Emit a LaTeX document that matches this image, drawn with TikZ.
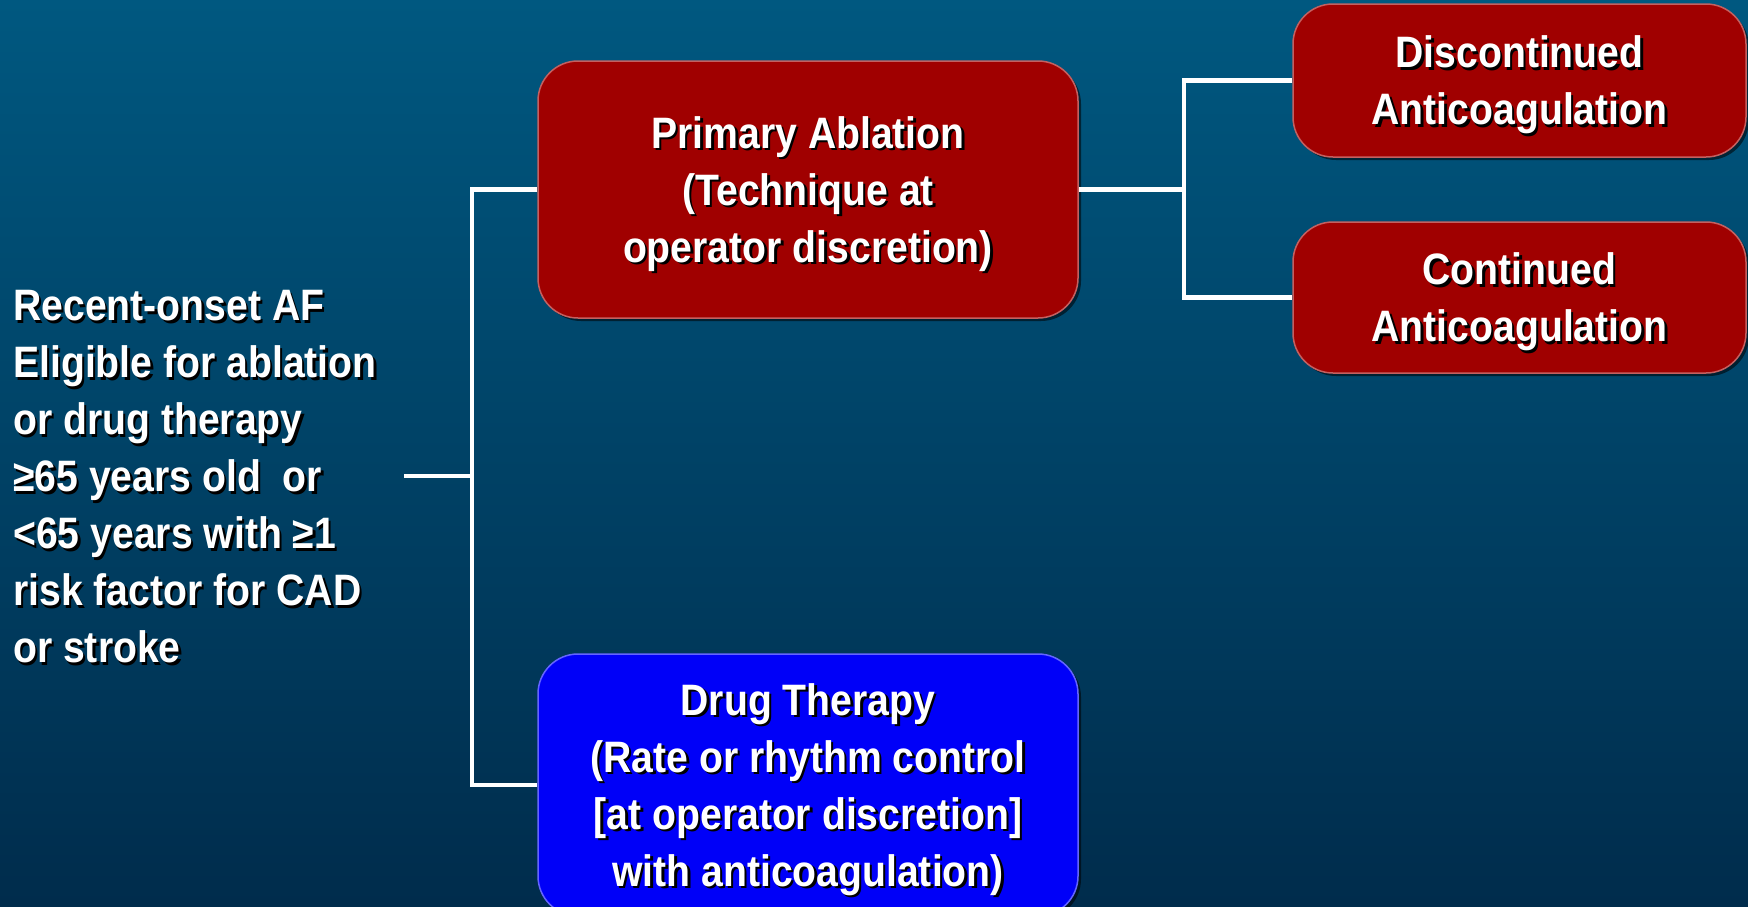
\documentclass[tikz,border=0pt]{standalone}
\usepackage{fontspec}
\setmainfont{Liberation Sans}[FakeStretch=0.89]
\usetikzlibrary{shadows}

\definecolor{bgoben}{RGB}{0,88,128}
\definecolor{bgunten}{RGB}{0,44,76}
\definecolor{ablrot}{RGB}{160,0,0}
\definecolor{ablrand}{RGB}{196,96,96}
\definecolor{drugblau}{RGB}{0,0,248}
\definecolor{drugrand}{RGB}{100,100,255}

% Text mit Schatten
\newcommand{\shd}[1]{\rlap{\color{black}\kern2.5pt\raisebox{-2.5pt}{#1}}#1}

\begin{document}
\begin{tikzpicture}[x=1pt, y=-1pt,
    txt/.style={text=white, font=\bfseries\fontsize{44}{57}\selectfont, inner sep=0pt},
    box/.style={txt, rounded corners=40pt, align=center, line width=1.5pt, text depth=-6pt,
        drop shadow={shadow xshift=3pt, shadow yshift=-3pt, fill=black, opacity=0.55}},
    rotbox/.style={box, fill=ablrot, draw=ablrand},
    blaubox/.style={box, fill=drugblau, draw=drugrand},
    linie/.style={white, line width=4.5pt}]

            % Hintergrund
            \shade[top color=bgoben, bottom color=bgunten] (0,0) rectangle (1748,906);
            \useasboundingbox (0,0) rectangle (1748,906);

            % Patientengruppe links
            \node[txt, anchor=west, align=left] (pat) at (13,478)
            {\shd{Recent-onset AF}\\ \shd{Eligible for ablation}\\ \shd{or drug therapy}\\
             \shd{≥65 years old\ \ or}\\ \shd{<65 years with ≥1}\\ \shd{risk factor for CAD}\\
             \shd{or stroke}};

            % Primaere Ablation
            \node[rotbox, minimum width=540pt, minimum height=257pt] (abl) at (808,189.5)
            {\shd{Primary Ablation}\\ \shd{(Technique at}\\ \shd{operator discretion)}};

            % Medikamentoese Therapie
            \node[blaubox, minimum width=540pt, minimum height=262pt] (drug) at (808,785)
            {\shd{Drug Therapy}\\ \shd{(Rate or rhythm control}\\ \shd{[at operator discretion]}\\
             \shd{with anticoagulation)}};

            % Antikoagulation abgesetzt / fortgesetzt
            \node[rotbox, minimum width=453pt, minimum height=153pt] (disc) at (1519.5,80.5)
            {\shd{Discontinued}\\ \shd{Anticoagulation}};
            \node[rotbox, minimum width=453pt, minimum height=151pt] (cont) at (1519.5,297.5)
            {\shd{Continued}\\ \shd{Anticoagulation}};

            % Verzweigung links
            \coordinate (s) at (404,476);
            \coordinate (j1) at (472,476);
            \draw[linie] (s) -- (j1);
            \draw[linie] (abl.west) -| (j1) |- (drug.west);

            % Verzweigung rechts
            \coordinate (j2) at (1184,189.5);
            \draw[linie] (abl.east) -- (j2);
            \draw[linie] (disc.west) -| (j2) |- (cont.west);

\end{tikzpicture}
\end{document}
